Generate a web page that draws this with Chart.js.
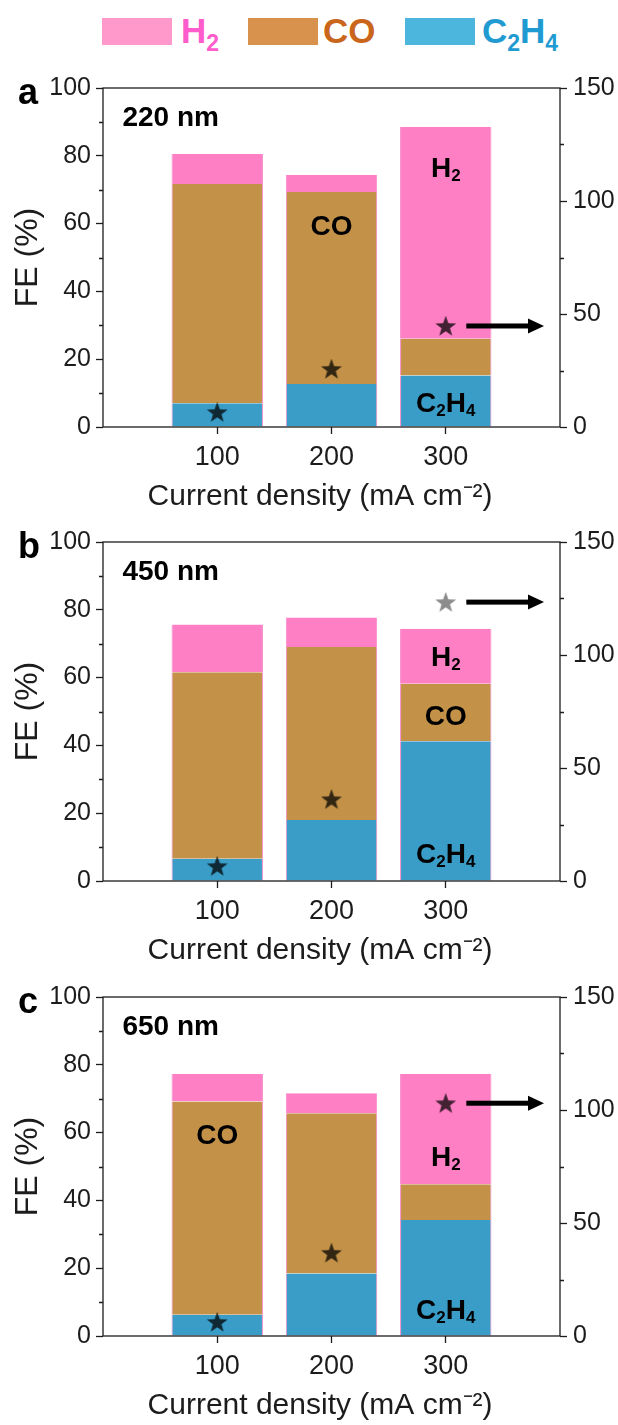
<!DOCTYPE html>
<html>
<head>
<meta charset="utf-8">
<script src="https://cdn.jsdelivr.net/npm/chart.js@4.4.1/dist/chart.umd.min.js"></script>
<style>
  body { margin: 0; background: #fff; width: 618px; height: 1425px; position: relative; overflow: hidden;
         font-family: "Liberation Sans", Arial, sans-serif; }
  .panel { position: absolute; left: 0; width: 618px; height: 458px; }
  .key { position: absolute; top: 18px; width: 70px; height: 27px; }
  .lbl { position: absolute; top: 13px; font-weight: bold; font-size: 35px; line-height: 35px; white-space: nowrap; }
  .lbl span { font-size: 23px; position: relative; top: 8px; }
</style>
</head>
<body>
<div class="key" style="left:102px;background:#ff99cc"></div>
<div class="lbl" style="left:181px;color:#ff5ccc">H<span>2</span></div>
<div class="key" style="left:248px;background:#d9924e"></div>
<div class="lbl" style="left:323px;color:#c9661c">CO</div>
<div class="key" style="left:405px;background:#4db6dc"></div>
<div class="lbl" style="left:482px;color:#1f9bd2">C<span>2</span>H<span>4</span></div>

<div class="panel" style="top:60px"><canvas id="pa"></canvas></div>
<div class="panel" style="top:514px"><canvas id="pb"></canvas></div>
<div class="panel" style="top:969px"><canvas id="pc"></canvas></div>

<script>
// * Data (FE in %, stars on the right axis)
const currents = [100, 200, 300];
const feTicks = [0, 20, 40, 60, 80, 100];
const rightTicks = [0, 50, 100, 150];
const feMinor = [10, 30, 50, 70, 90];
const rightMinor = [25, 75, 125];

// a: 220 nm
const c2h4A = [7.0, 12.7, 15.2];
const coA = [64.7, 56.6, 10.8];
const h2A = [8.8, 5.0, 62.5];
const starA = [6.6, 25.7, 44.7];

// b: 450 nm
const c2h4B = [6.6, 18.0, 41.2];
const coB = [55.0, 51.0, 17.0];
const h2B = [14.1, 8.7, 16.2];
const starB = [6.6, 36.2, 123.4];

// c: 650 nm
const c2h4C = [6.3, 18.4, 34.2];
const coC = [62.9, 47.3, 10.6];
const h2C = [8.1, 5.9, 32.5];
const starC = [6.2, 36.8, 103.0];

const notesA = [{ t: "CO", x: 200, y: 59.6 }, { t: "H2", x: 300, y: 76.8 }, { t: "C2H4", x: 300, y: 7.5 }];
const notesB = [{ t: "H2", x: 300, y: 66.5 }, { t: "CO", x: 300, y: 49 }, { t: "C2H4", x: 300, y: 8.4 }];
const notesC = [{ t: "CO", x: 100, y: 59.6 }, { t: "H2", x: 300, y: 53.1 }, { t: "C2H4", x: 300, y: 8.1 }];

const xTitle = "Current density (mA cm⁻²)";
const FONT = '"Liberation Sans", Arial, sans-serif';
const INK = "#1c1c1c";

function makeStar(color) {
  const c = document.createElement("canvas");
  c.width = 22;
  c.height = 22;
  const g = c.getContext("2d");
  g.fillStyle = color;
  g.beginPath();
  for (let i = 0; i < 10; i++) {
    const r = i % 2 ? 4.5 : 11;
    const a = -Math.PI / 2 + (i * Math.PI) / 5;
    g.lineTo(11 + r * Math.cos(a), 11.8 + r * Math.sin(a));
  }
  g.closePath();
  g.fill();
  return c;
}
const darkStar = makeStar("rgba(0,0,0,0.74)");
const greyStar = makeStar("rgba(0,0,0,0.45)");

function drawFormula(ctx, text, cx, cy, size) {
  const parts = text.match(/[A-Za-z]+|\d+/g);
  const sub = Math.round(size * 0.62);
  let w = 0;
  parts.forEach((p) => {
    ctx.font = "bold " + (/\d/.test(p) ? sub : size) + "px " + FONT;
    w += ctx.measureText(p).width;
  });
  let x = cx - w / 2;
  const base = cy + size * 0.358;
  ctx.textAlign = "left";
  ctx.textBaseline = "alphabetic";
  parts.forEach((p) => {
    const isSub = /\d/.test(p);
    ctx.font = "bold " + (isSub ? sub : size) + "px " + FONT;
    ctx.fillText(p, x, isSub ? base + size * 0.15 : base);
    x += ctx.measureText(p).width;
  });
}

const decor = {
  id: "decor",
  afterDraw(chart, args, o) {
    const { ctx, chartArea: a, scales } = chart;
    const x = scales.x, y = scales.y, y2 = scales.y2;
    ctx.save();
    ctx.strokeStyle = INK;
    ctx.lineWidth = 1.3;
    ctx.strokeRect(a.left, a.top, a.right - a.left, a.bottom - a.top);

    ctx.beginPath();
    feMinor.forEach((v) => {
      const py = Math.round(y.getPixelForValue(v)) + 0.5;
      ctx.moveTo(a.left - 4, py);
      ctx.lineTo(a.left, py);
    });
    rightMinor.forEach((v) => {
      const py = Math.round(y2.getPixelForValue(v)) + 0.5;
      ctx.moveTo(a.right, py);
      ctx.lineTo(a.right + 4, py);
    });
    ctx.stroke();

    // arrow pointing at the right axis
    const ay = y2.getPixelForValue(o.arrowY);
    const x0 = x.getPixelForValue(318), x1 = x.getPixelForValue(386);
    ctx.fillStyle = "#000";
    ctx.fillRect(x0, ay - 2.5, x1 - x0 - 14, 5);
    ctx.beginPath();
    ctx.moveTo(x1 - 16, ay - 7.5);
    ctx.lineTo(x1, ay);
    ctx.lineTo(x1 - 16, ay + 7.5);
    ctx.closePath();
    ctx.fill();

    o.notes.forEach((n) => drawFormula(ctx, n.t, x.getPixelForValue(n.x), y.getPixelForValue(n.y), 28));

    ctx.font = "bold 28px " + FONT;
    ctx.textAlign = "left";
    ctx.textBaseline = "middle";
    ctx.fillText(o.tag, x.getPixelForValue(17), y.getPixelForValue(91.2));

    // x title, sits a little left of the plot centre in the original
    ctx.fillStyle = INK;
    ctx.font = "30px " + FONT;
    ctx.textAlign = "center";
    ctx.fillText(xTitle, x.getPixelForValue(190), a.bottom + 70);

    ctx.fillStyle = "#000";
    ctx.font = "bold 36px " + FONT;
    ctx.textAlign = "left";
    ctx.textBaseline = "alphabetic";
    ctx.fillText(o.letter, 18, a.top + 16);
    ctx.restore();
  },
};

function pts(vals) {
  return currents.map((c, i) => ({ x: c, y: vals[i] }));
}

function panel(id, c2h4, co, h2, stars, starStyles, notes, tag, letter) {
  const barBase = {
    type: "bar",
    order: 1,
    categoryPercentage: 1,
    barPercentage: 0.8,
    borderColor: "#f48ac8",
    borderWidth: { left: 1, right: 1, top: 0, bottom: 0 },
    borderSkipped: false,
  };
  return new Chart(document.getElementById(id), {
    type: "bar",
    data: {
      datasets: [
        { type: "scatter", order: 0, yAxisID: "y2", data: pts(stars), pointStyle: starStyles, pointRadius: 11 },
        Object.assign({ label: "C2H4", data: pts(c2h4), backgroundColor: "#3a9dc8" }, barBase),
        Object.assign({ label: "CO", data: pts(co), backgroundColor: "#c39248" }, barBase),
        Object.assign({ label: "H2", data: pts(h2), backgroundColor: "#ff7fc5" }, barBase),
      ],
    },
    options: {
      responsive: true,
      maintainAspectRatio: false,
      animation: false,
      events: [],
      layout: { padding: { top: 28, left: 0, right: 0, bottom: 0 } },
      plugins: {
        legend: { display: false },
        tooltip: { enabled: false },
        decor: { arrowY: stars[2], notes: notes, tag: tag, letter: letter },
      },
      scales: {
        x: {
          type: "linear",
          min: 0,
          max: 400,
          offset: false,
          stacked: true,
          afterBuildTicks: (s) => { s.ticks = currents.map((v) => ({ value: v })); },
          afterFit: (s) => { s.height = 91; },
          grid: { drawOnChartArea: false, offset: false, tickLength: 7, tickWidth: 1.3, tickColor: INK },
          border: { display: false },
          ticks: { color: INK, padding: 7, font: { family: FONT, size: 27 }, maxRotation: 0 },
        },
        y: {
          position: "left",
          min: 0,
          max: 100,
          stacked: true,
          afterBuildTicks: (s) => { s.ticks = feTicks.map((v) => ({ value: v })); },
          afterFit: (s) => { s.width = 103; },
          grid: { drawOnChartArea: false, tickLength: 7, tickWidth: 1.3, tickColor: INK },
          border: { display: false },
          ticks: { color: INK, padding: 5, font: { family: FONT, size: 25 } },
          title: { display: true, text: "FE (%)", color: INK, padding: { top: 9, bottom: 0 },
                   font: { family: FONT, size: 32 } },
        },
        y2: {
          position: "right",
          min: 0,
          max: 150,
          afterBuildTicks: (s) => { s.ticks = rightTicks.map((v) => ({ value: v })); },
          afterFit: (s) => { s.width = 58; },
          grid: { drawOnChartArea: false, tickLength: 7, tickWidth: 1.3, tickColor: INK },
          border: { display: false },
          ticks: { color: INK, padding: 6, font: { family: FONT, size: 25 } },
        },
      },
    },
    plugins: [decor],
  });
}

panel("pa", c2h4A, coA, h2A, starA, [darkStar, darkStar, darkStar], notesA, "220 nm", "a");
panel("pb", c2h4B, coB, h2B, starB, [darkStar, darkStar, greyStar], notesB, "450 nm", "b");
panel("pc", c2h4C, coC, h2C, starC, [darkStar, darkStar, darkStar], notesC, "650 nm", "c");
</script>
</body>
</html>
